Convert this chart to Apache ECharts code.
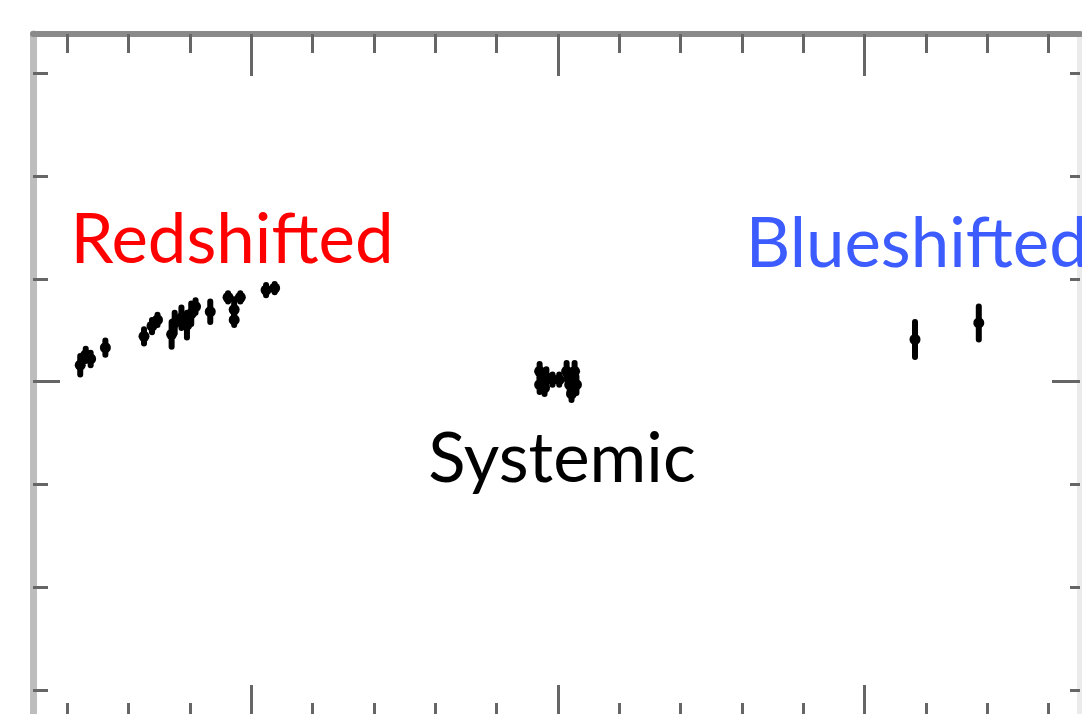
<!DOCTYPE html>
<html>
<head>
<meta charset="utf-8">
<script src="https://cdn.jsdelivr.net/npm/echarts@6/dist/echarts.min.js"></script>
<style>
  html, body { margin: 0; padding: 0; background: #fff; }
  #chart { width: 1082px; height: 714px; }
</style>
</head>
<body>
<div id="chart"></div>
<script>
// velocity offset (x), position offset (y), half-height of the error bar
const redVel = [-7.79, -7.7, -7.62, -7.38, -6.75, -6.62, -6.53, -6.3, -6.25, -6.14, -6.05, -5.98, -5.91, -5.67, -5.38, -5.18, -5.28, -5.28, -4.76, -4.62]
const redPos = [0.16, 0.26, 0.22, 0.33, 0.44, 0.54, 0.6, 0.46, 0.57, 0.62, 0.55, 0.66, 0.73, 0.68, 0.82, 0.82, 0.7, 0.6, 0.89, 0.91]
const redErr = [0.09, 0.06, 0.06, 0.07, 0.07, 0.06, 0.05, 0.12, 0.1, 0.1, 0.12, 0.1, 0.06, 0.1, 0.04, 0.04, 0.1, 0.05, 0.05, 0.04]

const sysVel = [-0.3, -0.3, -0.19, -0.09, 0.02, 0.14, 0.27, 0.19, 0.3, 0.22, -0.22]
const sysPos = [0.1, -0.03, 0.04, 0.02, 0.02, 0.1, 0.1, -0.03, -0.03, -0.12, -0.06]
const sysErr = [0.07, 0.07, 0.08, 0.05, 0.05, 0.08, 0.08, 0.08, 0.08, 0.06, 0.06]

const blueVel = [5.82, 6.86]
const bluePos = [0.41, 0.57]
const blueErr = [0.17, 0.16]

// axis extent and tick marks (no tick labels are shown in the figure)
const xRange = [-8.56, 8.51]
const yRange = [-3.31, 3.38]
const xMinorTicks = [-8, -7, -6, -4, -3, -2, -1, 1, 2, 3, 4, 6, 7, 8]
const xMajorTicks = [-5, 0, 5]
const yMinorTicks = [-3, -2, -1, 1, 2, 3]
const yMajorTicks = [0]

// annotations: [x, y, text]
const labels = [
  [-7.95, 1.37, 'Redshifted'],
  [3.06, 1.33, 'Blueshifted'],
  [0.065, -0.76, 'Systemic']
]
const labelColors = ['#ff0000', '#3c5cff', '#000000']

const chart = echarts.init(document.getElementById('chart'), null, { renderer: 'canvas' })

const points = []
const addGroup = (vel, pos, err) => {
  vel.forEach((v, i) => points.push([v, pos[i], err[i]]))
}
addGroup(redVel, redPos, redErr)
addGroup(sysVel, sysPos, sysErr)
addGroup(blueVel, bluePos, blueErr)

// 轴线 / 刻度
const xAxisOf = (position, ticks, len, showLine) => ({
  type: 'value',
  position: position,
  min: xRange[0],
  max: xRange[1],
  axisLine: { show: showLine, onZero: false, lineStyle: { color: '#8a8a8a', width: 6 } },
  axisTick: { show: true, inside: true, length: len, customValues: ticks, lineStyle: { color: '#666666', width: 3 } },
  axisLabel: { show: false },
  splitLine: { show: false }
})
const yAxisOf = (position, ticks, len, showLine, lineColor) => ({
  type: 'value',
  position: position,
  min: yRange[0],
  max: yRange[1],
  axisLine: { show: showLine, onZero: false, lineStyle: { color: lineColor, width: 7 } },
  axisTick: { show: true, inside: true, length: len, customValues: ticks, lineStyle: { color: '#666666', width: 3 } },
  axisLabel: { show: false },
  splitLine: { show: false }
})

const option = {
  animation: false,
  backgroundColor: '#ffffff',
  grid: { left: 33, right: 2, top: 34, bottom: -8, containLabel: false, outerBoundsMode: 'none' },
  xAxis: [
    xAxisOf('top', xMinorTicks, 19, true),
    xAxisOf('top', xMajorTicks, 42, false),
    xAxisOf('bottom', xMinorTicks, 19, true),
    xAxisOf('bottom', xMajorTicks, 37, false)
  ],
  yAxis: [
    yAxisOf('left', yMinorTicks, 15, true, '#bdbdbd'),
    yAxisOf('left', yMajorTicks, 27, false, '#bdbdbd'),
    yAxisOf('right', yMinorTicks, 10, true, '#ebebeb'),
    yAxisOf('right', yMajorTicks, 28, false, '#ebebeb')
  ],
  series: [
    {
      // error bars
      type: 'custom',
      xAxisIndex: 0,
      yAxisIndex: 0,
      data: points,
      renderItem: (params, api) => {
        const x = api.value(0)
        const y = api.value(1)
        const e = api.value(2)
        const p1 = api.coord([x, y + e])
        const p2 = api.coord([x, y - e])
        return {
          type: 'line',
          shape: { x1: p1[0], y1: p1[1], x2: p2[0], y2: p2[1] },
          style: { stroke: '#000', lineWidth: 6, lineCap: 'round' }
        }
      },
      z: 3
    },
    {
      type: 'scatter',
      xAxisIndex: 0,
      yAxisIndex: 0,
      data: points.map(p => [p[0], p[1]]),
      symbol: 'circle',
      symbolSize: 11,
      itemStyle: { color: '#000', opacity: 1 },
      z: 4
    },
    {
      type: 'scatter',
      xAxisIndex: 0,
      yAxisIndex: 0,
      symbolSize: 0,
      itemStyle: { opacity: 1 },
      data: labels.map((l, i) => ({
        value: [l[0], l[1]],
        label: {
          show: true,
          position: 'inside',
          formatter: l[2],
          align: i === 2 ? 'center' : 'left',
          verticalAlign: 'middle',
          color: labelColors[i],
          fontFamily: 'Lato',
          fontSize: 69
        }
      })),
      silent: true,
      z: 5
    }
  ]
}

chart.setOption(option)
</script>
</body>
</html>
